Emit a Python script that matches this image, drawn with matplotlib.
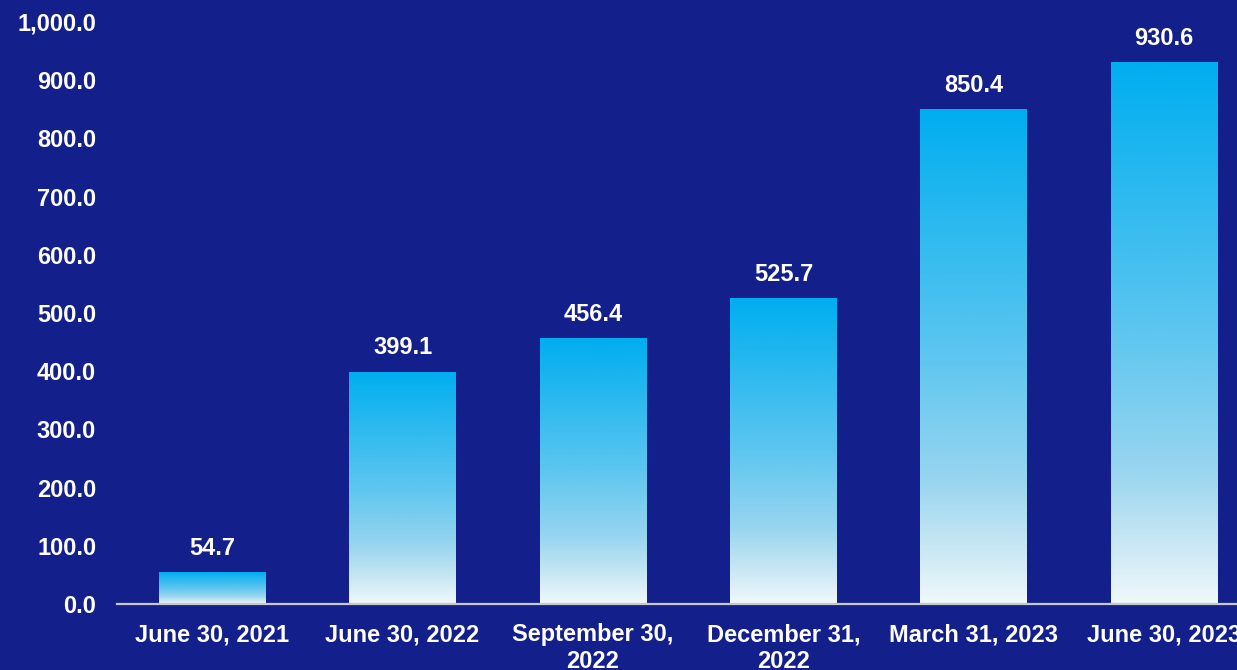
import numpy as np
import matplotlib
matplotlib.use("Agg")
import matplotlib.pyplot as plt
from matplotlib.colors import LinearSegmentedColormap

categories = ["June 30, 2021", "June 30, 2022", "September 30,\n2022",
              "December 31,\n2022", "March 31, 2023", "June 30, 2023"]
values = [54.7, 399.1, 456.4, 525.7, 850.4, 930.6]
yticks = [0, 100, 200, 300, 400, 500, 600, 700, 800, 900, 1000]

BG = "#131F8A"
plt.rcParams['font.family'] = ['Liberation Sans', 'DejaVu Sans']
plt.rcParams['font.weight'] = 'bold'

fig = plt.figure(figsize=(12.37, 6.70), dpi=100, facecolor=BG)
ax = fig.add_axes([117/1237, 66/670, 1142.4/1237, 582/670])
ax.set_facecolor(BG)

x = np.arange(len(categories))
bars = ax.bar(x, values, width=0.56, color="none", edgecolor="none")

cmap = LinearSegmentedColormap.from_list(
    "g", [(0.0, "#F0F8FC"), (0.12, "#C6E6F3"), (0.25, "#98D5EF"),
          (0.5, "#5EC6EF"), (1.0, "#00AEEF")])
grad = np.linspace(0, 1, 256).reshape(-1, 1)
for b in bars:
    x0 = b.get_x(); w = b.get_width(); h = b.get_height()
    im = ax.imshow(grad, extent=[x0, x0 + w, 0, h], origin="lower",
                   cmap=cmap, aspect="auto", zorder=2)
    im.set_clip_path(b)

for xi, v in zip(x, values):
    ax.annotate(f"{v:,.1f}", (xi, v), xytext=(0, 9), textcoords="offset points",
                ha="center", va="bottom", color="white", fontsize=17, fontweight="bold")

ax.set_xlim(-0.5, len(categories) - 0.5)
ax.set_ylim(0, 1000)
ax.set_yticks(yticks)
ax.set_yticklabels([f"{t:,.1f}" for t in yticks])
ax.set_xticks(x)
ax.set_xticklabels(categories, linespacing=1.22)
ax.tick_params(axis="both", length=0, colors="white", labelsize=17)
ax.tick_params(axis="y", pad=15)
ax.tick_params(axis="x", pad=14)
for s in ["top", "right", "left"]:
    ax.spines[s].set_visible(False)
ax.spines["bottom"].set_color("#C8C8C8")
ax.spines["bottom"].set_linewidth(1.6)
ax.spines["bottom"].set_zorder(3)

fig.savefig("out.png", dpi=100, facecolor=BG)
